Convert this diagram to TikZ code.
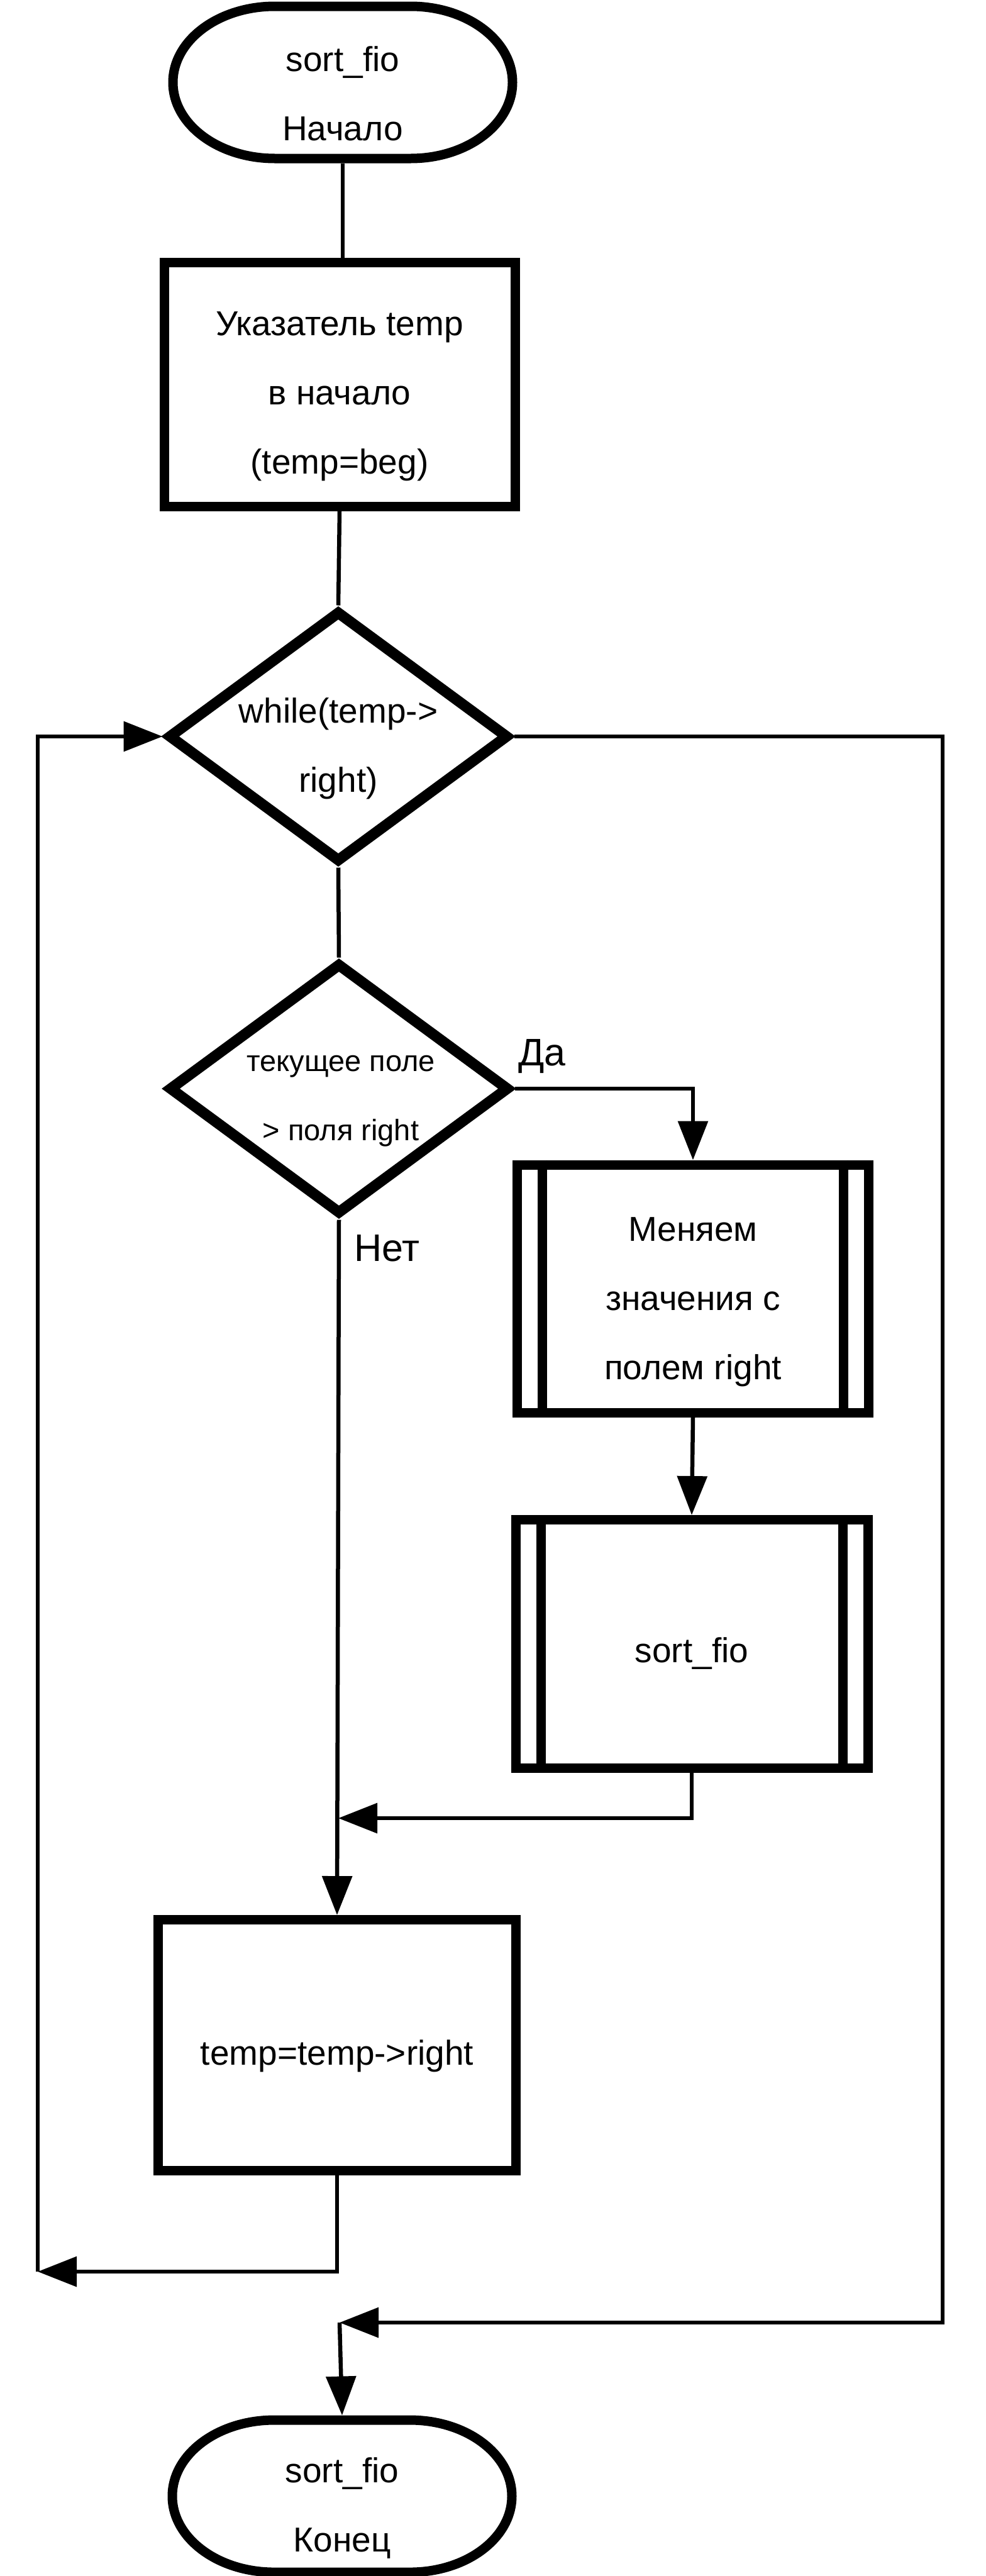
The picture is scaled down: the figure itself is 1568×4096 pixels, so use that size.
\documentclass[tikz,border=0pt]{standalone}
\usepackage{fontspec}
\setmainfont{Liberation Sans}
\usetikzlibrary{arrows.meta,shapes.geometric,calc}
\tikzset{
  boxshape/.style={draw=black, line width=7.5pt, rectangle, inner sep=0pt},
  decision/.style={draw=black, line width=8.5pt, diamond, inner sep=0pt, minimum width=271pt, minimum height=200pt},
  termnode/.style={rectangle, inner sep=0pt, minimum width=270pt, minimum height=121pt, line width=7.5pt},
  conn/.style={line width=3.25pt, line join=miter},
  arr/.style={conn, -{Triangle[length=31pt,width=23.5pt]}},
  txt/.style={font=\fontsize{27.5}{55}\selectfont, align=center, inner sep=0pt},
  smalltxt/.style={font=\fontsize{23.5}{55}\selectfont, align=center, inner sep=0pt},
  lbl/.style={font=\fontsize{30.5}{36}\selectfont, inner sep=0pt},
  thickline/.style={line width=7.5pt}
}
\newcommand\termoutline[1]{%
  \draw[thickline] ($(#1)+(-108,-121)$) -- ($(#1)+(108,-121)$)
    arc[start angle=90,end angle=-90,x radius=81pt,y radius=60.5pt]
    -- ($(#1)+(-108,121)$)
    arc[start angle=270,end angle=90,x radius=81pt,y radius=60.5pt] -- cycle;}
\begin{document}
\begin{tikzpicture}[x=0.5pt,y=-0.5pt]
\useasboundingbox (0,0) rectangle (1568,4096);
% start terminal
\node[termnode] (s) at (545,131) {};
\termoutline{s}
\node[txt] (st) at (545,149) {sort\_fio\\Начало};
% rect1
\node[boxshape, minimum width=279pt, minimum height=194pt] (r1) at (540,611) {};
\node[txt] (r1t) at (540,630) {Указатель temp\\в начало\\(temp=beg)};
% diamond 1
\node[decision] (d1) at (538,1171) {};
\node[txt] (d1t) at (538,1190) {while(temp-\textgreater\\right)};
% diamond 2
\node[decision] (d2) at (539,1731) {};
\node[smalltxt] (d2t) at (542,1751) {текущее поле\\\textgreater{} поля right};
% rect2 subroutine
\node[boxshape, minimum width=279.5pt, minimum height=197pt] (r2) at (1102,2049) {};
\draw[thickline] ($(r2.north)+(-239.5,0)$) -- ($(r2.south)+(-239.5,0)$);
\draw[thickline] ($(r2.north)+(239.5,0)$) -- ($(r2.south)+(239.5,0)$);
\node[txt] (r2t) at (1102,2070) {Меняем\\значения с\\полем right};
% rect3 subroutine
\node[boxshape, minimum width=280pt, minimum height=197.5pt] (r3) at (1100,2614) {};
\draw[thickline] ($(r3.north)+(-240,0)$) -- ($(r3.south)+(-240,0)$);
\draw[thickline] ($(r3.north)+(240,0)$) -- ($(r3.south)+(240,0)$);
\node[txt] (r3t) at (1100,2629) {sort\_fio};
% rect4
\node[boxshape, minimum width=284.5pt, minimum height=199.5pt] (r4) at (536,3252) {};
\node[txt] (r4t) at (536,3269) {temp=temp-\textgreater right};
% end terminal
\node[termnode] (e) at (544,3969) {};
\termoutline{e}
\node[txt] (et) at (544,3988) {sort\_fio\\Конец};
% labels
\node[lbl] (yes) at (862,1680) {Да};
\node[lbl] (no) at (615,1985) {Нет};
% coordinates
\coordinate (m1) at (538,2891);
\coordinate (cL) at (60,3612);
\coordinate (cR) at (1499,3693);
\coordinate (cM) at (540,3693);
% connectors
\draw[conn] (s.south) -- (s.south |- r1.north);
\draw[conn] (r1.south) -- (d1.north);
\draw[conn] (d1.south) -- (d2.north);
\draw[arr] (d2.east) -| (r2.north);
\draw[arr] (r2.south) -- (r3.north);
\draw[arr] (r3.south) |- (m1);
\draw[arr] (d2.south) -- (r4.north);
\draw[arr] (r4.south) |- (cL);
\draw[arr] (cL) |- (d1.west);
\draw[arr] (d1.east) -| (cR) -- (cM);
\draw[arr] (cM) -- (e.north);
\end{tikzpicture}
\end{document}
